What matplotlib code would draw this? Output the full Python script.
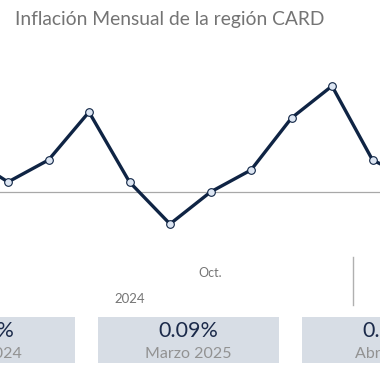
import numpy as np
import matplotlib.pyplot as plt
from matplotlib.patches import Rectangle

# Monthly inflation (%), first and last points fall outside the view
meses = ['Jun.', 'Jul.', 'Ago.', 'Sep.', 'Oct.', 'Nov.', 'Dic.', 'Ene.', 'Feb.', 'Mar.', 'Abr.', 'May.']
inflacion = [0.18, 0.05, 0.16, 0.40, 0.05, -0.16, 0.00, 0.11, 0.37, 0.53, 0.16, 0.06]

# Summary cards
card_valores = ['0.25%', '0.09%', '0.31%']
card_etiquetas = ['Abril 2024', 'Marzo 2025', 'Abril 2025']

navy = '#0f2444'
plt.rcParams['font.family'] = ['Lato', 'DejaVu Sans']

fig = plt.figure(figsize=(3.8, 3.8), dpi=100)
fig.patch.set_facecolor('white')

# chart area: index i sits at pixel 8 + 40.5*(i-1)
ax = fig.add_axes([0, 1 - 250 / 380, 1, 210 / 380])
x = np.arange(len(inflacion))
ax.axhline(0, color='#a8a8a8', lw=0.9, zorder=1)
ax.plot(x, inflacion, color=navy, lw=2.4, marker='o', markersize=5.5,
        markerfacecolor='#dde6f3', markeredgecolor=navy, markeredgewidth=0.8,
        solid_joinstyle='miter', zorder=3)
ax.set_xlim(1 - 8 / 40.5, 1 + 372 / 40.5)
ax.set_ylim((192 - 250) / 200, (192 - 40) / 200)
ax.axis('off')

# overlay in pixel coordinates for titles, axis labels and cards
ov = fig.add_axes([0, 0, 1, 1], zorder=5)
ov.set_xlim(0, 380)
ov.set_ylim(380, 0)
ov.axis('off')
ov.patch.set_alpha(0)

ov.text(15, 20, 'Inflación Mensual de la región CARD', fontsize=13.9,
        color='#747474', ha='left', va='center')

ov.text(210, 273, meses[4], fontsize=9, color='#757575', ha='center', va='center')
ov.text(130, 299, '2024', fontsize=9.5, color='#757575', ha='center', va='center')
ov.plot([353, 353], [257, 305], color='#b0b0b0', lw=1)

card_w, gap = 181, 23
for i in range(len(card_valores)):
    left = -106 + i * (card_w + gap)
    ov.add_patch(Rectangle((left, 317), card_w, 46, facecolor='#d7dde5', edgecolor='none'))
    cx = left + card_w / 2
    ov.text(cx, 331, card_valores[i], fontsize=15.5, color='#1b2a4a', ha='center', va='center')
    ov.text(cx, 354, card_etiquetas[i], fontsize=11.5, color='#929292', ha='center', va='center')

fig.savefig('out.png', dpi=100)
